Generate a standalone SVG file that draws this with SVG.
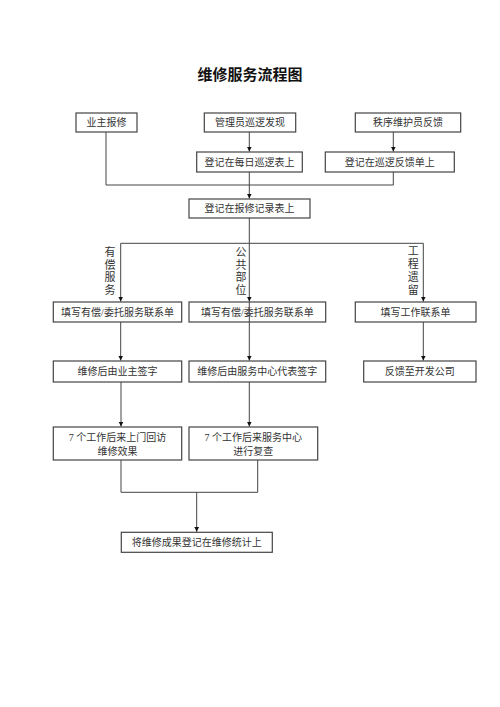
<svg xmlns="http://www.w3.org/2000/svg" width="500" height="707" viewBox="0 0 500 707">
<defs>
<style>
.box{fill:#fff;stroke:#444;stroke-width:1.2}
.t{font-family:"Liberation Serif","Noto Sans CJK SC",serif;font-size:10px;fill:#333;text-anchor:middle}
.v{font-family:"Liberation Serif","Noto Sans CJK SC",serif;font-size:11px;fill:#333;text-anchor:middle}
.ln{fill:none;stroke:#444;stroke-width:1}
</style>
<marker id="ah" markerWidth="6" markerHeight="6" refX="5" refY="3" orient="auto" markerUnits="userSpaceOnUse">
<path d="M0,0.5 L5,3 L0,5.5 Z" fill="#111"/>
</marker>
</defs>
<rect width="500" height="707" fill="#fff"/>
<text x="250" y="80" style="font-family:'Noto Sans CJK SC',sans-serif;font-size:15px;font-weight:bold;fill:#111;text-anchor:middle">维修服务流程图</text>

<g id="label-youchang">
<text class="v" x="110" y="256">有</text>
<text class="v" x="110" y="268.5">偿</text>
<text class="v" x="110" y="281">服</text>
<text class="v" x="110" y="294">务</text>
</g>
<g id="label-gonggong">
<text class="v" x="241" y="256">公</text>
<text class="v" x="241" y="268.5">共</text>
<text class="v" x="241" y="281">部</text>
<text class="v" x="241" y="294">位</text>
</g>
<g id="label-gongcheng">
<text class="v" x="413.3" y="255">工</text>
<text class="v" x="413.3" y="268">程</text>
<text class="v" x="413.3" y="281">遗</text>
<text class="v" x="413.3" y="294">留</text>
</g>

<g id="n1"><rect class="box" x="76" y="113" width="61" height="19"/><text class="t" x="106.5" y="126">业主报修</text></g>
<g id="n2"><rect class="box" x="204.3" y="113" width="91.4" height="19"/><text class="t" x="250" y="126">管理员巡逻发现</text></g>
<g id="n3"><rect class="box" x="355.3" y="113" width="105.4" height="19"/><text class="t" x="408" y="126">秩序维护员反馈</text></g>
<g id="n4"><rect class="box" x="196.7" y="152" width="105.6" height="20"/><text class="t" x="249.5" y="165.5">登记在每日巡逻表上</text></g>
<g id="n5"><rect class="box" x="325.3" y="152" width="129" height="20"/><text class="t" x="389.8" y="165.5">登记在巡逻反馈单上</text></g>
<g id="n6"><rect class="box" x="189" y="199" width="121" height="19"/><text class="t" x="249.5" y="212">登记在报修记录表上</text></g>
<g id="n7"><rect class="box" x="53.3" y="302" width="128.4" height="20"/><text class="t" x="117.5" y="315.5">填写有偿/委托服务联系单</text></g>
<g id="n8"><rect class="box" x="189" y="302" width="136.7" height="20"/><text class="t" x="257.3" y="315.5">填写有偿/委托服务联系单</text></g>
<g id="n9"><rect class="box" x="355.3" y="302" width="120.7" height="20"/><text class="t" x="415.6" y="315.5">填写工作联系单</text></g>
<g id="n10"><rect class="box" x="53.3" y="361" width="128.4" height="21"/><text class="t" x="117.5" y="375">维修后由业主签字</text></g>
<g id="n11"><rect class="box" x="189" y="361" width="136.7" height="21"/><text class="t" x="257.3" y="375">维修后由服务中心代表签字</text></g>
<g id="n12"><rect class="box" x="363.7" y="361" width="112.3" height="21"/><text class="t" x="419.8" y="375">反馈至开发公司</text></g>
<g id="n13"><rect class="box" x="53.3" y="427" width="128.4" height="33"/><text class="t" x="117.5" y="440.5">7 个工作后来上门回访</text><text class="t" x="117.5" y="454.5">维修效果</text></g>
<g id="n14"><rect class="box" x="189" y="427" width="128.7" height="33"/><text class="t" x="253.3" y="440.5">7 个工作后来服务中心</text><text class="t" x="253.3" y="454.5">进行复查</text></g>
<g id="n15"><rect class="box" x="121.3" y="532.3" width="151" height="20"/><text class="t" x="196.8" y="545.8">将维修成果登记在维修统计上</text></g>

<g id="connectors">
<path class="ln" d="M249.3,132 V151.5" marker-end="url(#ah)"/>
<path class="ln" d="M393.3,132 V151.5" marker-end="url(#ah)"/>
<path class="ln" d="M106,132 V185 H393.3 V172"/>
<path class="ln" d="M249.3,172 V198.5" marker-end="url(#ah)"/>
<path class="ln" d="M249.3,218 V301.5" marker-end="url(#ah)"/>
<path class="ln" d="M120.7,243.3 H423.3 V301.5" marker-end="url(#ah)"/>
<path class="ln" d="M120.7,243.3 V301.5" marker-end="url(#ah)"/>
<path class="ln" d="M120.7,322 V360.5" marker-end="url(#ah)"/>
<path class="ln" d="M249.3,302 V360.5" marker-end="url(#ah)"/>
<path class="ln" d="M423.3,322 V360.5" marker-end="url(#ah)"/>
<path class="ln" d="M121,382 V426.5" marker-end="url(#ah)"/>
<path class="ln" d="M249.3,382 V426.5" marker-end="url(#ah)"/>
<path class="ln" d="M121,460 V492.3 H257.7 V460"/>
<path class="ln" d="M196.7,492.3 V531.8" marker-end="url(#ah)"/>
</g>
</svg>
